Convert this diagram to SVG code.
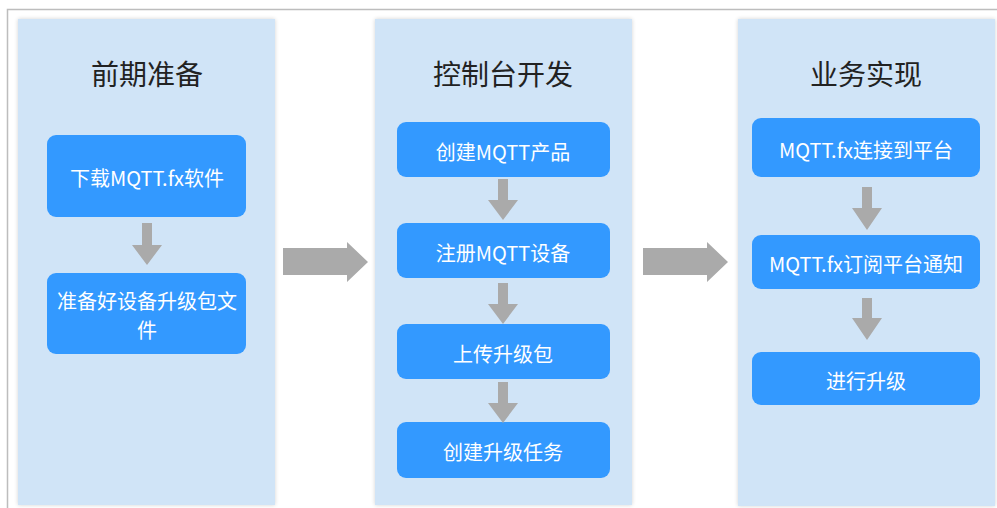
<svg xmlns="http://www.w3.org/2000/svg" width="997" height="508" viewBox="0 0 997 508">
<defs>
<filter id="sh" x="-5%" y="-5%" width="110%" height="110%">
<feGaussianBlur in="SourceAlpha" stdDeviation="2"/>
<feOffset dx="0" dy="0"/>
<feComponentTransfer><feFuncA type="linear" slope="0.18"/></feComponentTransfer>
<feMerge><feMergeNode/><feMergeNode in="SourceGraphic"/></feMerge>
</filter>
<style>
.frame{fill:#ffffff;stroke:#bdbdbd;stroke-width:1.5}
.panel{fill:#d0e4f7}
.box{fill:#3399ff}
.title{font-family:"Noto Sans CJK SC","Noto Sans",sans-serif;font-size:28px;fill:#222222;text-anchor:middle}
.lbl{font-family:"Noto Sans CJK SC","Noto Sans",sans-serif;font-size:20px;fill:#ffffff;text-anchor:middle}
.arr{fill:#aaaaaa}
</style>
</defs>
<rect width="997" height="508" fill="#ffffff"/>
<rect class="frame" x="7.5" y="9.5" width="1000" height="510"/>

<g id="panel1">
<rect class="panel" x="18" y="19" width="257" height="486" filter="url(#sh)"/>
<text class="title" x="147" y="85">前期准备</text>
</g>
<g id="panel2">
<rect class="panel" x="375" y="19" width="257" height="486" filter="url(#sh)"/>
<text class="title" x="503" y="85">控制台开发</text>
</g>
<g id="panel3">
<rect class="panel" x="738" y="19" width="257" height="487" filter="url(#sh)"/>
<text class="title" x="866" y="85">业务实现</text>
</g>

<g id="n1"><rect class="box" x="47" y="135" width="199" height="82" rx="9"/><text class="lbl" x="147" y="186">下载MQTT.fx软件</text></g>
<g id="n2"><rect class="box" x="47" y="273" width="199" height="81" rx="9"/><text class="lbl" x="147" y="308.5">准备好设备升级包文</text><text class="lbl" x="147" y="337.5">件</text></g>

<g id="n3"><rect class="box" x="397" y="122" width="213" height="55" rx="9"/><text class="lbl" x="503" y="159.5">创建MQTT产品</text></g>
<g id="n4"><rect class="box" x="397" y="223" width="213" height="55" rx="9"/><text class="lbl" x="503" y="260.5">注册MQTT设备</text></g>
<g id="n5"><rect class="box" x="397" y="324" width="213" height="55" rx="9"/><text class="lbl" x="503" y="361.5">上传升级包</text></g>
<g id="n6"><rect class="box" x="397" y="422" width="213" height="56" rx="9"/><text class="lbl" x="503" y="460">创建升级任务</text></g>

<g id="n7"><rect class="box" x="752" y="118" width="228" height="59" rx="9"/><text class="lbl" x="866" y="157.5">MQTT.fx连接到平台</text></g>
<g id="n8"><rect class="box" x="752" y="235" width="228" height="54" rx="9"/><text class="lbl" x="866" y="272">MQTT.fx订阅平台通知</text></g>
<g id="n9"><rect class="box" x="752" y="352" width="228" height="53" rx="9"/><text class="lbl" x="866" y="388.5">进行升级</text></g>

<g id="connectors">
<polygon class="arr" points="142,223 152,223 152,245 162,245 147,265 132,245 142,245"/>
<polygon class="arr" points="498,179 508,179 508,200 518,200 503,220 488,200 498,200"/>
<polygon class="arr" points="498,283 508,283 508,304 518,304 503,324 488,304 498,304"/>
<polygon class="arr" points="498,382 508,382 508,403 518,403 503,423 488,403 498,403"/>
<polygon class="arr" points="862,187 872,187 872,208 882,208 867,230 852,208 862,208"/>
<polygon class="arr" points="862,298 872,298 872,318 882,318 867,340 852,318 862,318"/>
<polygon class="arr" points="283,248 347,248 347,242 368,262 347,282 347,275 283,275"/>
<polygon class="arr" points="643,248 707,248 707,242 728,262 707,282 707,275 643,275"/>
</g>
</svg>
